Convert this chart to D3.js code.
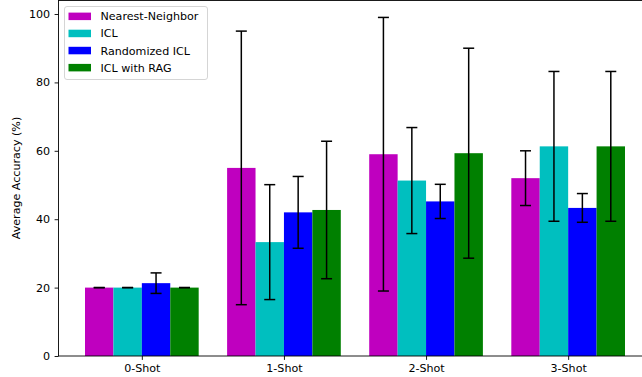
<!DOCTYPE html>
<html><head><meta charset="utf-8">
<script src="https://cdn.jsdelivr.net/npm/d3@7"></script>
<style>body{margin:0;background:#fff}svg{display:block}text{font-family:"DejaVu Sans",sans-serif}</style>
</head><body>
<svg id="c" width="642" height="377"></svg>
<script>
const categories = ["0-Shot","1-Shot","2-Shot","3-Shot"];
const seriesNames = ["Nearest-Neighbor","ICL","Randomized ICL","ICL with RAG"];
const seriesColors = ["#bf00bf","#00bfbf","#0000ff","#008000"];
const nnMean = [20, 55, 59, 52];
const nnErr = [0, 40, 40, 8];
const iclMean = [20, 33.3, 51.3, 61.3];
const iclErr = [0, 16.8, 15.5, 21.9];
const randMean = [21.3, 42, 45.2, 43.3];
const randErr = [3, 10.5, 5, 4.2];
const ragMean = [20, 42.7, 59.3, 61.3];
const ragErr = [0, 20.1, 30.7, 21.9];
const yTicks = [0,20,40,60,80,100];

const means = [nnMean, iclMean, randMean, ragMean];
const errs = [nnErr, iclErr, randErr, ragErr];
const barW = 0.2;
const FS = "11.1px";

const svg = d3.select("#c");
const x = d3.scaleLinear().domain([-0.59, 3.59]).range([58, 652]);
const y = d3.scaleLinear().domain([0, 103.95]).range([356, 0.5]);

// bars
means.forEach((vals, s) => {
  const off = (s - 1.5) * barW;
  svg.append("g").selectAll("rect").data(vals).join("rect")
    .attr("x", (d,i) => x(i + off - barW/2))
    .attr("width", x(barW) - x(0))
    .attr("y", d => y(d))
    .attr("height", d => y(0) - y(d))
    .attr("fill", seriesColors[s]);
});
// error bars
means.forEach((vals, s) => {
  const off = (s - 1.5) * barW;
  const g = svg.append("g").attr("stroke", "#000").attr("stroke-width", 1.5);
  vals.forEach((m, i) => {
    const cx = x(i + off), e = errs[s][i];
    g.append("line").attr("x1", cx).attr("x2", cx).attr("y1", y(m - e)).attr("y2", y(m + e));
    g.append("line").attr("x1", cx-5.5).attr("x2", cx+5.5).attr("y1", y(m - e)).attr("y2", y(m - e));
    g.append("line").attr("x1", cx-5.5).attr("x2", cx+5.5).attr("y1", y(m + e)).attr("y2", y(m + e));
  });
});

// axes
const yAxis = d3.axisLeft(y).tickValues(yTicks).tickSize(3.9).tickPadding(4.5);
const ga = svg.append("g").attr("transform", "translate(58.5,0)").call(yAxis);
const xAxis = d3.axisBottom(x).tickValues([0,1,2,3]).tickFormat(i => categories[i]).tickSize(3.9).tickPadding(4.5);
const gx = svg.append("g").attr("transform", "translate(0,356)").call(xAxis);
[ga, gx].forEach(g => {
  g.select(".domain").remove();
  g.selectAll("text").attr("font-size", FS).attr("fill", "#000").attr("font-family", "DejaVu Sans");
  g.selectAll("line").attr("stroke", "#000").attr("stroke-width", 0.9);
});
// spines
svg.append("line").attr("x1",58.5).attr("x2",58.5).attr("y1",0.5).attr("y2",356).attr("stroke","#000").attr("stroke-width",0.9);
svg.append("line").attr("x1",58).attr("x2",652).attr("y1",356).attr("y2",356).attr("stroke","#000").attr("stroke-width",0.9);
svg.append("line").attr("x1",58).attr("x2",652).attr("y1",0.5).attr("y2",0.5).attr("stroke","#000").attr("stroke-width",0.9);

// y label
svg.append("text").attr("transform", "translate(20,178) rotate(-90)")
  .attr("text-anchor", "middle").attr("font-size", FS).text("Average Accuracy (%)");

// legend
const lg = svg.append("g");
lg.append("rect").attr("x", 64.5).attr("y", 6.5).attr("width", 143).attr("height", 73).attr("rx", 2.5)
  .attr("fill", "#fff").attr("fill-opacity", 0.8).attr("stroke", "#d0d0d0").attr("stroke-width", 0.9);
seriesNames.forEach((n, s) => {
  const cy = 16.3 + s * 17.1;
  lg.append("rect").attr("x", 68.5).attr("y", cy - 3.7).attr("width", 22.5).attr("height", 7.5).attr("fill", seriesColors[s]);
  lg.append("text").attr("x", 100.5).attr("y", cy + 4).attr("font-size", FS).text(n);
});
</script>
</body></html>
